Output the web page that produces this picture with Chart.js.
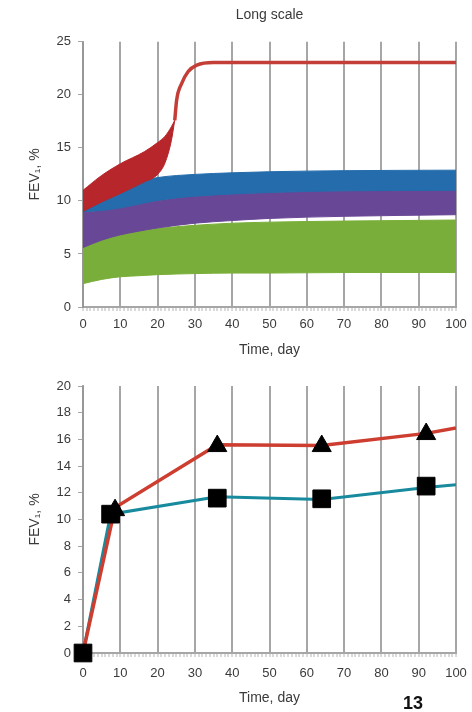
<!DOCTYPE html>
<html>
<head>
<meta charset="utf-8">
<script src="https://cdn.jsdelivr.net/npm/chart.js@4.4.1/dist/chart.umd.min.js"></script>
<style>
  body { margin: 0; background: #fff; }
  #wrap { position: relative; width: 472px; height: 712px; }
  #topChart { position: absolute; left: 0; top: 0; }
  #bottomChart { position: absolute; left: 0; top: 360px; }
  #pageNo { position: absolute; left: 403px; top: 693px; line-height: 20px;
            font: bold 18px "Liberation Sans", Arial, sans-serif; color: #111; }
</style>
</head>
<body>
<div id="wrap">
  <canvas id="topChart" width="472" height="360"></canvas>
  <canvas id="bottomChart" width="472" height="352"></canvas>
  <div id="pageNo">13</div>
</div>
<script>
// ---- top panel ("Long scale"), band edges
const redBandDays = [0, 5, 10, 16.5, 20, 22, 23.7, 24.6];
const redUpper    = [11.0, 12.4, 13.5, 14.65, 15.5, 16.1, 17.0, 17.6];
const redLower    = [9.0, 9.9, 10.7, 11.8, 12.5, 13.6, 15.7, 17.6];
const redLineDays = [24.6, 25.1, 26.5, 28.2, 30.5, 35, 100];
const redLine     = [17.6, 19.5, 21.1, 22.2, 22.8, 23.05, 23.05];

const bandDays    = [0, 5, 10, 15, 20, 30, 40, 50, 70, 100];
const blueUpper   = [9.2, 10.3, 11.1, 11.8, 12.2, 12.5, 12.65, 12.75, 12.85, 12.9];
const blueLower   = [9.0, 9.1, 9.35, 9.7, 10.05, 10.45, 10.65, 10.8, 10.95, 11.0];
const purpleUpper = [9.0, 9.1, 9.35, 9.7, 10.05, 10.45, 10.65, 10.8, 10.95, 11.0];
const purpleLower = [5.6, 6.3, 6.8, 7.15, 7.45, 7.9, 8.15, 8.35, 8.55, 8.7];
const greenUpper  = [5.6, 6.3, 6.8, 7.15, 7.4, 7.7, 7.9, 8.0, 8.1, 8.2];
const greenLower  = [2.2, 2.6, 2.85, 2.95, 3.05, 3.15, 3.2, 3.2, 3.25, 3.25];

// ---- bottom panel
const triLineDays = [0, 8.6, 36, 64, 92, 100];
const triLineVals = [0, 10.9, 15.6, 15.55, 16.45, 16.85];
const triDays     = [8.6, 36, 64, 92];
const triVals     = [10.7, 15.5, 15.5, 16.4];
const sqLineDays  = [0, 7.4, 36, 64, 92, 100];
const sqLineVals  = [0, 10.4, 11.7, 11.5, 12.4, 12.6];
const sqDays      = [0, 7.4, 36, 64, 92];
const sqVals      = [0, 10.4, 11.6, 11.55, 12.5];

const pts = (xs, ys) => xs.map((x, i) => ({x: x, y: ys[i]}));

const FONT = '"Liberation Sans", Arial, sans-serif';
const TEXT = '#3a3a3a';
const GRID = 'rgba(150,150,150,0.85)';
const RED = 'rgb(182,38,42)';
const BLUE = 'rgb(36,108,172)';
const PURPLE = 'rgb(104,72,150)';
const GREEN = 'rgb(122,174,58)';

function dayAxis(tickPad, axisHeight, titlePadBottom) {
    return {
        type: 'linear',
        min: 0,
        max: 100,
        ticks: {
            stepSize: 1,
            autoSkip: false,
            maxRotation: 0,
            padding: tickPad,
            color: TEXT,
            font: { family: FONT, size: 13 },
            callback: (v) => (v % 10 === 0 ? v : ''),
        },
        grid: {
            color: (c) => (c.tick && c.tick.value % 10 === 0 ? GRID : 'rgba(0,0,0,0)'),
            lineWidth: 2,
            tickLength: 4,
            tickColor: 'rgba(150,150,150,0.7)',
            tickWidth: 1,
        },
        border: { color: GRID, width: 2 },
        title: {
            display: true,
            text: 'Time, day',
            color: TEXT,
            font: { family: FONT, size: 14 },
            padding: { top: 0, bottom: titlePadBottom },
        },
        afterFit: (s) => {
            s.height = axisHeight;
            // "100" may hang into the right margin
            s.paddingLeft = 0;
            s.paddingRight = 0;
        },
    };
}

function fevAxis(max, step) {
    return {
        min: 0,
        max: max,
        ticks: { stepSize: step, padding: 7, color: TEXT, font: { family: FONT, size: 13 } },
        grid: { drawOnChartArea: false, tickLength: 5, tickColor: GRID },
        border: { color: GRID, width: 2 },
        title: {
            display: true,
            text: 'FEV₁, %',
            color: TEXT,
            font: { family: FONT, size: 14 },
            padding: { top: 27, bottom: 0 },
        },
        afterFit: (s) => { s.width = 83; },
    };
}

const band = (days, vals, color, fill) => ({
    data: pts(days, vals),
    borderColor: color,
    backgroundColor: color,
    borderWidth: 1,
    pointRadius: 0,
    fill: fill,
    cubicInterpolationMode: 'monotone',
});

// top chart
new Chart(document.getElementById('topChart'), {
    type: 'line',
    data: {
        datasets: [
            {
                data: pts(redLineDays, redLine),
                borderColor: 'rgb(196,62,56)',
                borderWidth: 3.5,
                pointRadius: 0,
                fill: false,
                cubicInterpolationMode: 'monotone',
            },
            band(redBandDays, redLower, RED, false),
            band(redBandDays, redUpper, RED, '-1'),
            band(bandDays, blueLower, BLUE, false),
            band(bandDays, blueUpper, BLUE, '-1'),
            band(bandDays, purpleLower, PURPLE, false),
            band(bandDays, purpleUpper, PURPLE, '-1'),
            band(bandDays, greenLower, GREEN, false),
            band(bandDays, greenUpper, GREEN, '-1'),
        ],
    },
    options: {
        responsive: false,
        animation: false,
        events: [],
        layout: { padding: { left: 0, right: 16, top: 0, bottom: 0 } },
        plugins: {
            legend: { display: false },
            tooltip: { enabled: false },
            title: {
                display: true,
                text: 'Long scale',
                fullSize: false,
                color: TEXT,
                font: { family: FONT, size: 14, weight: 'normal' },
                padding: { top: 7, bottom: 18 },
            },
        },
        scales: {
            x: dayAxis(6, 53, 1.6),
            y: fevAxis(25, 5),
        },
    },
});

// bottom chart
new Chart(document.getElementById('bottomChart'), {
    type: 'line',
    data: {
        datasets: [
            {
                data: pts(sqDays, sqVals),
                showLine: false,
                pointStyle: 'rect',
                pointRadius: 12.5,
                backgroundColor: '#000',
                borderColor: '#000',
                clip: false,
            },
            {
                data: pts(triDays, triVals),
                showLine: false,
                pointStyle: 'triangle',
                pointRadius: 11,
                backgroundColor: '#000',
                borderColor: '#000',
                clip: false,
            },
            {
                data: pts(triLineDays, triLineVals),
                borderColor: 'rgb(205,62,48)',
                borderWidth: 3.5,
                pointRadius: 0,
            },
            {
                data: pts(sqLineDays, sqLineVals),
                borderColor: 'rgb(24,138,158)',
                borderWidth: 3,
                pointRadius: 0,
            },
        ],
    },
    options: {
        responsive: false,
        animation: false,
        events: [],
        layout: { padding: { left: 0, right: 16, top: 26, bottom: 0 } },
        plugins: {
            legend: { display: false },
            tooltip: { enabled: false },
        },
        scales: {
            x: dayAxis(9, 59, 5.6),
            y: fevAxis(20, 2),
        },
    },
});
</script>
</body>
</html>
